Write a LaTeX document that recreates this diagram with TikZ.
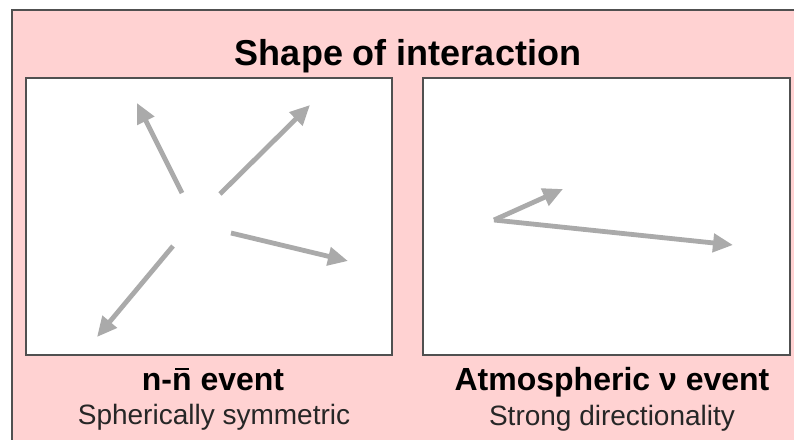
\documentclass[tikz,border=0pt]{standalone}
\usepackage{fontspec}
\setmainfont{Liberation Sans}
\usetikzlibrary{arrows.meta}
\definecolor{pinkbg}{RGB}{255,210,210}
\definecolor{framegray}{RGB}{80,80,80}
\definecolor{arrowgray}{RGB}{170,170,170}
\newcommand{\nbarsym}{{\ooalign{n\cr\hidewidth\rule[0.64em]{0.42em}{0.06em}\hidewidth\cr}}}
\tikzset{
  panel/.style={draw=framegray, line width=1.6pt, fill=white},
  ray/.style={draw=arrowgray, line width=4.8pt, -{Triangle[length=20pt,width=18pt]}},
  titletext/.style={anchor=base, font=\fontsize{36}{40}\selectfont\bfseries},
  headtext/.style={anchor=base, font=\fontsize{32}{36}\selectfont\bfseries},
  subtext/.style={anchor=base, font=\fontsize{28}{32}\selectfont, text=black!85},
}
\begin{document}
\begin{tikzpicture}[x=1pt,y=-1pt]
\useasboundingbox (0,0) rectangle (794,439);
\fill[white] (0,0) rectangle (794,439);
\draw[draw=framegray, line width=2pt, fill=pinkbg] (12,10) rectangle (810,460);
% panels
\draw[panel] (26,78) rectangle (392,355);
\draw[panel] (423,78) rectangle (790,355);
% title and labels
\node[titletext] (title) at (408,65) {Shape of interaction};
\node[headtext] (lhead) at (213,390) {n-\nbarsym{} event};
\node[subtext] (lsub) at (214,424) {Spherically symmetric};
\node[headtext] (rhead) at (612,390) {Atmospheric ν event};
\node[subtext] (rsub) at (612,425) {Strong directionality};
% left panel arrows
\coordinate (a1s) at (182,193); \coordinate (a1e) at (137,103);
\coordinate (a2s) at (220,194); \coordinate (a2e) at (310,105);
\coordinate (a3s) at (231,233); \coordinate (a3e) at (348,261);
\coordinate (a4s) at (173,246); \coordinate (a4e) at (97,337);
\draw[ray] (a1s) -- (a1e);
\draw[ray] (a2s) -- (a2e);
\draw[ray] (a3s) -- (a3e);
\draw[ray] (a4s) -- (a4e);
% right panel arrows
\coordinate (v0) at (494,220);
\coordinate (v1) at (563,189);
\coordinate (v2) at (733,245);
\draw[ray] (v0) -- (v1);
\draw[ray] (v0) -- (v2);
\end{tikzpicture}
\end{document}
